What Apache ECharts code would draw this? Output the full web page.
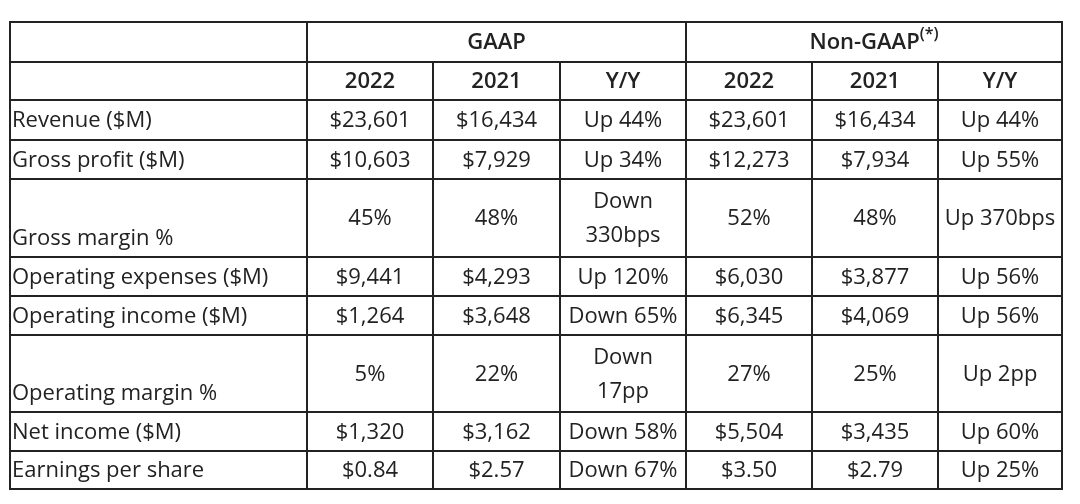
<!DOCTYPE html>
<html lang="en">
<head>
<meta charset="UTF-8">
<title>GAAP vs Non-GAAP</title>
<script src="https://cdn.jsdelivr.net/npm/echarts@6/dist/echarts.min.js"></script>
</head>
<body style="margin:0;background:#fff">
<div id="main" style="width:1080px;height:504px"></div>
<script>
// table content
const groups = ['GAAP', 'Non-GAAP'];
const years = ['2022', '2021', 'Y/Y', '2022', '2021', 'Y/Y'];
const labels = ['Revenue ($M)', 'Gross profit ($M)', 'Gross margin %', 'Operating expenses ($M)',
    'Operating income ($M)', 'Operating margin %', 'Net income ($M)', 'Earnings per share'];
const gaap2022 = ['$23,601', '$10,603', '45%', '$9,441', '$1,264', '5%', '$1,320', '$0.84'];
const gaap2021 = ['$16,434', '$7,929', '48%', '$4,293', '$3,648', '22%', '$3,162', '$2.57'];
const gaapYY = ['Up 44%', 'Up 34%', 'Down\n330bps', 'Up 120%', 'Down 65%', 'Down\n17pp', 'Down 58%', 'Down 67%'];
const non2022 = ['$23,601', '$12,273', '52%', '$6,030', '$6,345', '27%', '$5,504', '$3.50'];
const non2021 = ['$16,434', '$7,934', '48%', '$3,877', '$4,069', '25%', '$3,435', '$2.79'];
const nonYY = ['Up 44%', 'Up 55%', 'Up 370bps', 'Up 56%', 'Up 56%', 'Up 2pp', 'Up 60%', 'Up 25%'];

// layout (grid lines in pixels)
const colEdges = [10, 307, 433, 560, 686, 812, 938, 1062];
const rowEdges = [22, 62, 100, 140, 179, 257, 296, 335, 412, 451, 489];

// cells: [c0, c1, r0, r1, text, kind]
const cells = [];
cells.push([0, 1, 0, 1, '', 'h']);
cells.push([1, 4, 0, 1, groups[0], 'h']);
cells.push([4, 7, 0, 1, groups[1], 'hs']);
cells.push([0, 1, 1, 2, '', 'h']);
years.forEach((y, i) => cells.push([i + 1, i + 2, 1, 2, y, 'h']));
const cols = [gaap2022, gaap2021, gaapYY, non2022, non2021, nonYY];
labels.forEach((l, r) => {
    cells.push([0, 1, r + 2, r + 3, l, 'l']);
    cols.forEach((c, i) => cells.push([i + 1, i + 2, r + 2, r + 3, c[r], 'n']));
});

const chart = echarts.init(document.getElementById('main'));
chart.setOption({
    animation: false,
    grid: {left: 0, right: 0, top: 0, bottom: 0},
    xAxis: {type: 'value', min: 0, max: 1080, show: false},
    yAxis: {type: 'value', min: 0, max: 504, inverse: true, show: false},
    series: [{
        type: 'custom',
        data: cells,
        renderItem: function (params, api) {
            const d = cells[params.dataIndex];
            const p0 = api.coord([colEdges[d[0]], rowEdges[d[2]]]);
            const p1 = api.coord([colEdges[d[1]], rowEdges[d[3]]]);
            const w = p1[0] - p0[0], h = p1[1] - p0[1];
            const kind = d[5];
            const left = kind === 'l';
            const tall = h > 60;
            const txt = kind === 'hs' ? d[4] + '{s|(*)}' : d[4];
            return {
                type: 'group',
                children: [{
                    type: 'rect',
                    shape: {x: p0[0], y: p0[1], width: w, height: h},
                    style: {fill: '#fff', stroke: '#222', lineWidth: 2}
                }, {
                    type: 'text',
                    x: left ? p0[0] + 2 : p0[0] + w / 2,
                    y: left && tall ? p1[1] - 1 : p0[1] + h / 2 + 1,
                    style: {
                        text: txt,
                        fill: '#222',
                        font: (kind[0] === 'h' ? '600 ' : '') + '22px "Open Sans"',
                        align: left ? 'left' : 'center',
                        verticalAlign: left && tall ? 'bottom' : 'middle',
                        lineHeight: 34,
                        rich: {s: {font: '600 16px "Open Sans"', verticalAlign: 'top', lineHeight: 20, padding: [0, 0, 10, 0]}}
                    }
                }]
            };
        }
    }]
});
</script>
</body>
</html>
